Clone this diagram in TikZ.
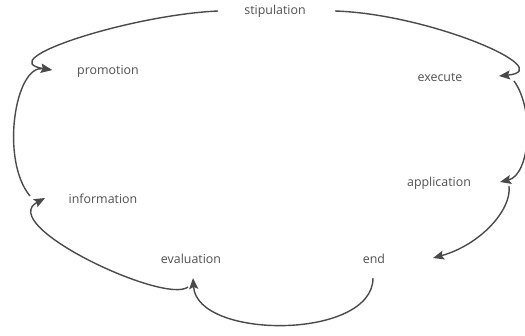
\documentclass[tikz,border=0pt]{standalone}
\usepackage{fontspec}
\setmainfont{Open Sans}
\usetikzlibrary{arrows.meta}
\definecolor{inkgray}{HTML}{505050}
\definecolor{linegray}{HTML}{4A4A4A}

\begin{document}
\begin{tikzpicture}[
  x=1pt,y=-1pt,
  stage/.style={inner sep=0pt,text=inkgray,font=\fontsize{12.4}{14}\selectfont},
  flow/.style={draw=linegray,line width=1.4pt,
    -{Stealth[length=11pt,width=9pt,inset=2pt]}}
]
  \useasboundingbox (0,0) rectangle (525,335);

  \node[stage] (stip) at (275,11)  {stipulation};
  \node[stage] (exec) at (440,77)  {execute};
  \node[stage] (app)  at (439,183) {application};
  \node[stage] (fin)  at (374,259) {end};
  \node[stage] (eval) at (191,259) {evaluation};
  \node[stage] (info) at (103,199) {information};
  \node[stage] (prom) at (108,71)  {promotion};

  \draw[flow] ([shift={(60,0)}]stip.center)
    .. controls (430,14) and (560,70) .. ([shift={(59,-1)}]exec.center);
  \draw[flow] ([shift={(74,4)}]exec.center)
    .. controls (535,110) and (530,175) .. ([shift={(61,-1)}]app.center);
  \draw[flow] ([shift={(70,3)}]app.center)
    .. controls (512,210) and (480,245) .. ([shift={(59,-1)}]fin.center);
  \draw[flow] ([shift={(-1,19)}]fin.center)
    .. controls (373,340) and (197,340) .. ([shift={(2,19)}]eval.center);
  \draw[flow] ([shift={(-3,28)}]eval.center)
    .. controls (165,305) and (-5,225) .. ([shift={(-58,-1)}]info.center);
  \draw[flow] ([shift={(-73,-3)}]info.center)
    .. controls (0,160) and (15,64) .. ([shift={(-56,-1)}]prom.center);
  \draw[flow] ([shift={(-57,0)}]stip.center)
    .. controls (130,15) and (-10,60) .. ([shift={(-56,-1)}]prom.center);
\end{tikzpicture}
\end{document}
